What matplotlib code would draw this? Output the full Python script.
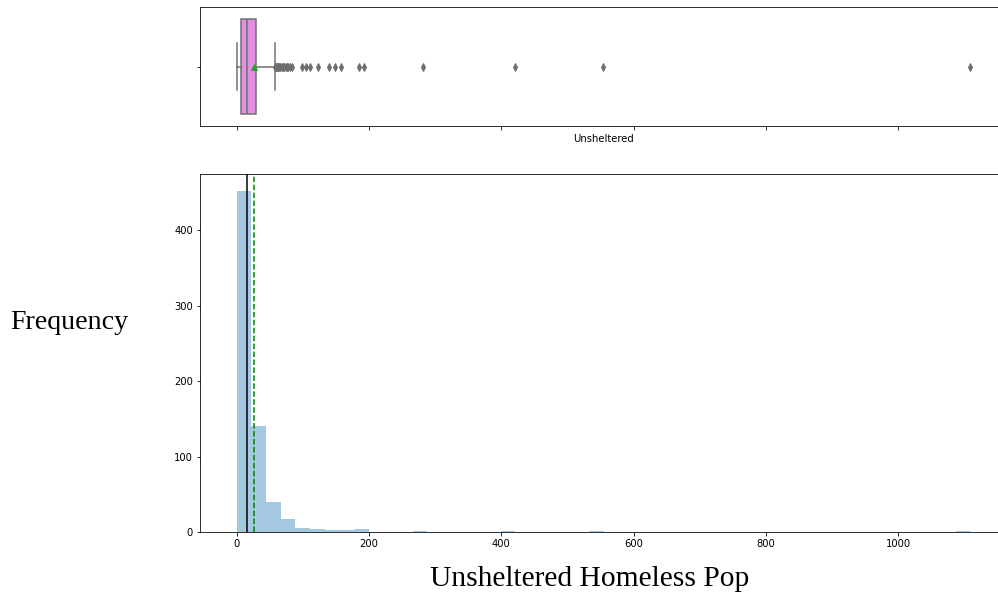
import numpy as np
import matplotlib.pyplot as plt

# unsheltered homeless counts, binned into 50 equal-width bins
bin_range = (0, 1109)
counts = [452, 141, 40, 17, 5, 4, 3, 2, 4, 0,
          0, 0, 1, 0, 0, 0, 0, 0, 1, 0,
          0, 0, 0, 0, 1, 0, 0, 0, 0, 0,
          0, 0, 0, 0, 0, 0, 0, 0, 0, 0,
          0, 0, 0, 0, 0, 0, 0, 0, 0, 1]

# box plot summary
q1, median, q3 = 7.1, 15.5, 29.1
whisker_lo, whisker_hi = 0, 57.4
mean = 25.5
outliers = [58, 59, 60, 61, 62, 63, 64, 65, 66, 68, 70, 72, 74, 76, 78, 80, 84,
            99, 105, 111, 123, 139, 148, 158, 185, 193, 282, 421, 554, 1108]

W, H = 998, 592
fig = plt.figure(figsize=(W / 72, H / 72), dpi=72)
ax_box = fig.add_axes([200 / W, 1 - 126 / H, 807 / W, 119 / H])
ax_hist = fig.add_axes([200 / W, 1 - 532 / H, 807 / W, 358 / H], sharex=ax_box)

# box plot on top
gray = '#6e6e6e'
stats = [dict(med=median, q1=q1, q3=q3, whislo=whisker_lo, whishi=whisker_hi,
              mean=mean, fliers=outliers, label='')]
ax_box.bxp(stats, positions=[0], widths=0.8, vert=False, showmeans=True,
           patch_artist=True,
           boxprops=dict(facecolor='#e190e1', edgecolor=gray, linewidth=1.5),
           medianprops=dict(color=gray, linewidth=1.5),
           whiskerprops=dict(color=gray, linewidth=1.5),
           capprops=dict(color=gray, linewidth=1.5),
           flierprops=dict(marker='d', markersize=5, markerfacecolor=gray,
                           markeredgecolor=gray, linestyle='none'),
           meanprops=dict(marker='^', markersize=6, markerfacecolor='#2ca02c',
                          markeredgecolor='#2ca02c'))
ax_box.set_ylim(0.5, -0.5)
ax_box.set_yticks([0])
ax_box.set_yticklabels([''])
ax_box.tick_params(axis='x', labelbottom=False)
ax_box.set_xlabel('Unsheltered')

# histogram below
edges = np.linspace(bin_range[0], bin_range[1], len(counts) + 1)
ax_hist.hist(edges[:-1], bins=edges, weights=counts, color='#1f77b4', alpha=0.4)
ax_hist.axvline(median, color='black', linestyle='-', linewidth=1.5)
ax_hist.axvline(mean, color='green', linestyle='--', linewidth=1.5)
ax_hist.set_xticks([0, 200, 400, 600, 800, 1000])
ax_hist.set_yticks([0, 100, 200, 300, 400])

fig.text(69.5 / W, 1 - 329 / H, 'Frequency', family='Liberation Serif',
         fontsize=28, ha='center', va='baseline')
fig.text(589.5 / W, 1 - 586 / H, 'Unsheltered Homeless Pop',
         family='Liberation Serif', fontsize=29.5, ha='center', va='baseline')

fig.savefig('out.png', dpi=72)
